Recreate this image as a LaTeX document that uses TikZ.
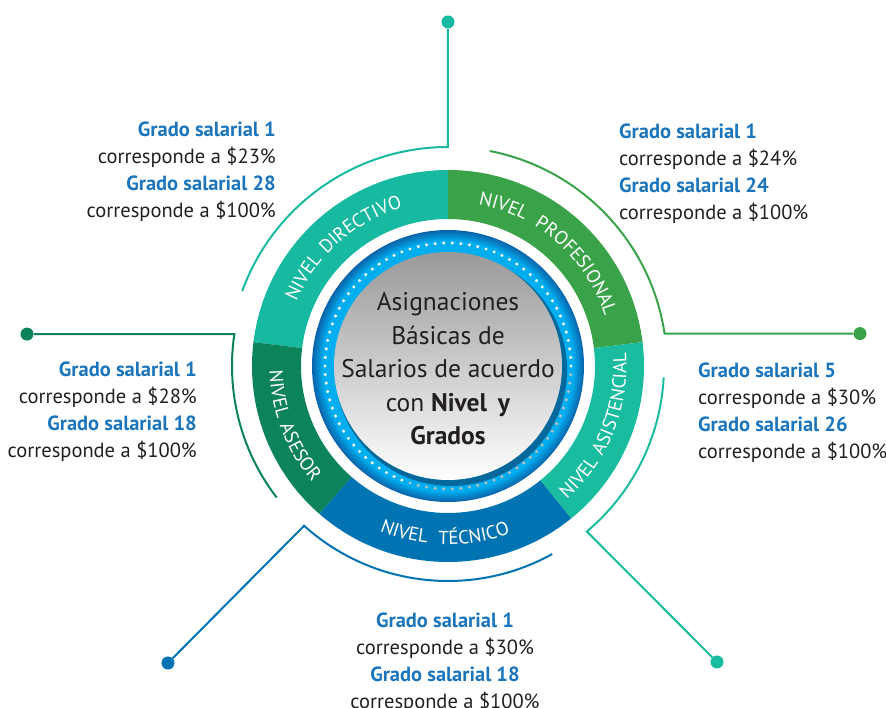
\documentclass[tikz,border=0pt]{standalone}
\usepackage{fontspec}
\setmainfont{PT Sans}
\usetikzlibrary{positioning, calc, decorations.text}
\definecolor{dirteal}{HTML}{17B9A0}
\definecolor{progreen}{HTML}{3AA34A}
\definecolor{asiteal}{HTML}{1ABCA0}
\definecolor{tecblue}{HTML}{0074B2}
\definecolor{asegreen}{HTML}{0C8359}
\definecolor{gradoblue}{HTML}{1B75BC}
\definecolor{bodytext}{HTML}{231F20}
\definecolor{ringcyan}{HTML}{00AEEF}
\definecolor{ringblue}{HTML}{0A62AA}
\pgfdeclareradialshading{ringshade}{\pgfpointorigin}{color(0bp)=(ringcyan); color(23bp)=(ringcyan); color(24.2bp)=(ringblue!60!ringcyan); color(25bp)=(ringblue); color(50bp)=(ringblue)}
\newcommand{\gradoline}[1]{{\color{gradoblue}\bfseries Grado salarial #1}}

\begin{document}
\begin{tikzpicture}[x=1pt, y=1pt,
	link/.style={line width=2pt},
	enddot/.style={circle, fill, inner sep=0pt, minimum size=13pt},
	info/.style={inner sep=0pt, text=bodytext, font=\fontsize{20.5}{27}\selectfont},
	seglabel/.style={decorate, decoration={text along path, text align=center, text color=white,
		text={|\fontsize{19}{19}\selectfont|#1}}}]
	\useasboundingbox (-448,-342) rectangle (438,366);

	\coordinate (dirArc) at (160:219);
	\coordinate (proArc) at (79:219);
	\coordinate (asiArc) at (-3:216);
	\coordinate (tecArc) at (-61:215);
	\coordinate (aseArc) at (217.5:216);

	\node[enddot, dirteal] (dirDot) at (0,344) {};
	\node[enddot, progreen] (proDot) at (412,32.4) {};
	\node[enddot, asiteal] (asiDot) at (269,-296) {};
	\node[enddot, tecblue] (tecDot) at (-280,-297) {};
	\node[enddot, asegreen] (aseDot) at (-421,31.9) {};

	\draw[link, dirteal] (dirArc) arc[start angle=160, end angle=90, radius=219] -- (dirDot);
	\draw[link, progreen] (proArc) arc[start angle=79, end angle=8.5, radius=219] -- (proDot);
	\draw[link, asiteal] (asiArc) arc[start angle=-3, end angle=-50, radius=216] -- (asiDot);
	\draw[link, tecblue] (tecArc) arc[start angle=-61, end angle=-132, radius=215] -- (tecDot);
	\draw[link, asegreen] (aseArc) arc[start angle=217.5, end angle=171.5, radius=216] -- (aseDot);

	\foreach \sa/\ea/\col in {7/90/progreen, 90/173/dirteal, 173/229/asegreen, 229/309/tecblue, -51/7/asiteal}
		\fill[\col] (\sa:196) arc[start angle=\sa, end angle=\ea, radius=196]
			-- (\ea:147) arc[start angle=\ea, end angle=\sa, radius=147] -- cycle;

	\path[seglabel={NIVEL{\hspace{7pt}}DIRECTIVO}] (173:164.5) arc[start angle=173, end angle=90, radius=164.5];
	\path[seglabel={NIVEL{\hspace{11pt}}PROFESIONAL}] (90:164.5) arc[start angle=90, end angle=7, radius=164.5];
	\path[seglabel={NIVEL{\hspace{7pt}}ASISTENCIAL}] (-51:178.5) arc[start angle=-51, end angle=7, radius=178.5];
	\path[seglabel={NIVEL{\hspace{11pt}}TÉCNICO}] (-131:178.5) arc[start angle=-131, end angle=-51, radius=178.5];
	\path[seglabel={NIVEL{\hspace{7pt}}ASESOR}] (173:178.5) arc[start angle=173, end angle=229, radius=178.5];

	\shade[shading=ringshade] (0,0) circle (136);
	\foreach \a in {0,4,...,248}
		\fill[white] (\a:123) circle (1.7);
	\foreach \a in {252,256,...,356}
		\fill[black!25] (\a:123) circle (1.7);
	\fill[ringblue!60!black, opacity=.6] (3,-4) circle (116);
	\shade[top color=black!40, middle color=black!8, bottom color=white] (0,0) circle (114);

	\node[text=bodytext, align=center, font=\fontsize{25.5}{33.5}\selectfont] (title) at (0,-3)
		{Asignaciones\\ Básicas de\\ Salarios de acuerdo\\ con \textbf{Nivel\, y}\\ \textbf{Grados}};

	\node[info, align=right, anchor=north east] (dirInfo) at (-172,244)
		{\gradoline{1}\\ corresponde a \$23\%\\ \gradoline{28}\\ corresponde a \$100\%};
	\node[info, align=left, anchor=north west] (proInfo) at (171,242)
		{\gradoline{1}\\ corresponde a \$24\%\\ \gradoline{24}\\ corresponde a \$100\%};
	\node[info, align=right, anchor=north east] (aseInfo) at (-251,4)
		{\gradoline{1}\\ corresponde a \$28\%\\ \gradoline{18}\\ corresponde a \$100\%};
	\node[info, align=left, anchor=north west] (asiInfo) at (250,3)
		{\gradoline{5}\\ corresponde a \$30\%\\ \gradoline{26}\\ corresponde a \$100\%};
	\node[info, align=center, anchor=north] (tecInfo) at (-3,-247)
		{\gradoline{1}\\ corresponde a \$30\%\\ \gradoline{18}\\ corresponde a \$100\%};
\end{tikzpicture}
\end{document}
